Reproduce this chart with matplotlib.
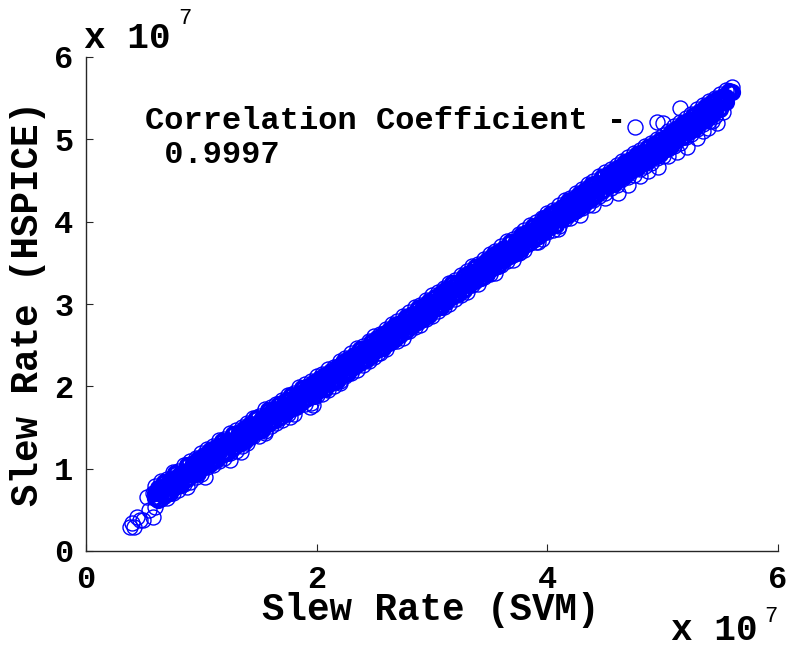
import matplotlib
matplotlib.use("Agg")
import matplotlib.pyplot as plt

# Slew rate values in units of 1e7 (SVM prediction on x, HSPICE on y)
x_grid = [0.60, 0.65, 0.70, 0.75, 0.80, 0.85, 0.90, 0.95, 1.00, 1.05, 1.10, 1.15, 1.20, 1.25, 1.30,
          1.35, 1.40, 1.45, 1.50, 1.55, 1.60, 1.65, 1.70, 1.75, 1.80, 1.85, 1.90, 1.95, 2.00, 2.05,
          2.10, 2.15, 2.20, 2.25, 2.30, 2.35, 2.40, 2.45, 2.50, 2.55, 2.60, 2.65, 2.70, 2.75, 2.80,
          2.85, 2.90, 2.95, 3.00, 3.05, 3.10, 3.15, 3.20, 3.25, 3.30, 3.35, 3.40, 3.45, 3.50, 3.55,
          3.60, 3.65, 3.70, 3.75, 3.80, 3.85, 3.90, 3.95, 4.00, 4.05, 4.10, 4.15, 4.20, 4.25, 4.30,
          4.35, 4.40, 4.45, 4.50, 4.55, 4.60, 4.65, 4.70, 4.75, 4.80, 4.85, 4.90, 4.95, 5.00, 5.05,
          5.10, 5.15, 5.20, 5.25, 5.30, 5.35, 5.40, 5.45, 5.50, 5.55, 5.60]

x_grid_b = [0.625, 0.675, 0.725, 0.775, 0.825, 0.875, 0.925, 0.975, 1.025, 1.075, 1.125, 1.175, 1.225,
            1.275, 1.325, 1.375, 1.425, 1.475, 1.525, 1.575, 1.625, 1.675, 1.725, 1.775, 1.825, 1.875,
            1.925, 1.975, 2.025, 2.075, 2.125, 2.175, 2.225, 2.275, 2.325, 2.375, 2.425, 2.475, 2.525,
            2.575, 2.625, 2.675, 2.725, 2.775, 2.825, 2.875, 2.925, 2.975, 3.025, 3.075, 3.125, 3.175,
            3.225, 3.275, 3.325, 3.375, 3.425, 3.475, 3.525, 3.575, 3.625, 3.675, 3.725, 3.775, 3.825,
            3.875, 3.925, 3.975, 4.025, 4.075, 4.125, 4.175, 4.225, 4.275, 4.325, 4.375, 4.425, 4.475,
            4.525, 4.575, 4.625, 4.675, 4.725, 4.775, 4.825, 4.875, 4.925, 4.975, 5.025, 5.075, 5.125,
            5.175, 5.225, 5.275, 5.325, 5.375, 5.425, 5.475, 5.525, 5.575]

y_row_upper = [0.79, 0.85, 0.88, 0.96, 0.97, 1.05, 1.09, 1.13, 1.19, 1.24, 1.28, 1.35, 1.36, 1.43, 1.47,
               1.51, 1.56, 1.62, 1.64, 1.72, 1.75, 1.79, 1.84, 1.90, 1.92, 1.99, 2.03, 2.06, 2.12, 2.15,
               2.21, 2.24, 2.31, 2.34, 2.40, 2.46, 2.49, 2.55, 2.61, 2.64, 2.70, 2.76, 2.79, 2.85, 2.90,
               2.96, 2.99, 3.05, 3.11, 3.14, 3.20, 3.26, 3.29, 3.35, 3.40, 3.46, 3.49, 3.55, 3.61, 3.64,
               3.70, 3.76, 3.79, 3.85, 3.90, 3.96, 3.99, 4.05, 4.11, 4.14, 4.20, 4.26, 4.29, 4.35, 4.40,
               4.46, 4.49, 4.55, 4.60, 4.64, 4.69, 4.74, 4.78, 4.83, 4.87, 4.92, 4.96, 5.00, 5.05, 5.10,
               5.16, 5.21, 5.26, 5.31, 5.37, 5.42, 5.47, 5.50, 5.55, 5.60, 5.63]

y_row_b1 = [0.77, 0.84, 0.86, 0.95, 0.95, 1.04, 1.07, 1.12, 1.17, 1.23, 1.26, 1.34, 1.34, 1.42, 1.45,
            1.50, 1.54, 1.61, 1.62, 1.71, 1.73, 1.78, 1.82, 1.89, 1.90, 1.98, 2.01, 2.05, 2.10, 2.14,
            2.19, 2.23, 2.29, 2.33, 2.38, 2.45, 2.47, 2.54, 2.59, 2.63, 2.68, 2.75, 2.77, 2.84, 2.88,
            2.95, 2.97, 3.04, 3.09, 3.13, 3.18, 3.25, 3.27, 3.34, 3.38, 3.45, 3.47, 3.54, 3.59, 3.63,
            3.68, 3.75, 3.77, 3.84, 3.88, 3.95, 3.97, 4.04, 4.09, 4.13, 4.18, 4.25, 4.27, 4.34, 4.38,
            4.45, 4.47, 4.54, 4.58, 4.63, 4.67, 4.73, 4.76, 4.82, 4.85, 4.91, 4.94, 4.99, 5.03, 5.09,
            5.14, 5.20, 5.24, 5.30, 5.35, 5.41, 5.45, 5.49, 5.53, 5.59]

y_row_mid_hi = [0.71, 0.76, 0.81, 0.88, 0.91, 0.96, 0.99, 1.06, 1.11, 1.15, 1.21, 1.27, 1.30, 1.34, 1.37,
                1.44, 1.48, 1.53, 1.57, 1.64, 1.69, 1.70, 1.74, 1.83, 1.84, 1.90, 1.96, 1.98, 2.06, 2.06,
                2.11, 2.17, 2.23, 2.25, 2.33, 2.38, 2.43, 2.46, 2.51, 2.57, 2.62, 2.67, 2.72, 2.77, 2.84,
                2.87, 2.89, 2.98, 3.03, 3.05, 3.13, 3.18, 3.23, 3.26, 3.30, 3.39, 3.41, 3.46, 3.54, 3.56,
                3.64, 3.67, 3.69, 3.78, 3.82, 3.87, 3.92, 3.97, 4.05, 4.05, 4.10, 4.19, 4.21, 4.26, 4.33,
                4.38, 4.43, 4.46, 4.50, 4.57, 4.61, 4.65, 4.71, 4.75, 4.81, 4.83, 4.86, 4.93, 4.97, 5.01,
                5.09, 5.13, 5.20, 5.22, 5.27, 5.35, 5.39, 5.41, 5.48, 5.52, 5.57]

y_row_b2 = [0.70, 0.75, 0.79, 0.86, 0.88, 0.95, 1.00, 1.03, 1.10, 1.14, 1.19, 1.25, 1.27, 1.33, 1.38,
            1.41, 1.47, 1.52, 1.55, 1.62, 1.66, 1.69, 1.75, 1.80, 1.83, 1.89, 1.94, 1.96, 2.03, 2.05,
            2.12, 2.14, 2.22, 2.24, 2.31, 2.36, 2.40, 2.45, 2.52, 2.54, 2.61, 2.66, 2.70, 2.75, 2.81,
            2.86, 2.90, 2.95, 3.02, 3.04, 3.11, 3.16, 3.20, 3.25, 3.31, 3.36, 3.40, 3.45, 3.52, 3.54,
            3.61, 3.66, 3.70, 3.75, 3.81, 3.86, 3.90, 3.95, 4.02, 4.04, 4.11, 4.16, 4.20, 4.25, 4.31,
            4.36, 4.40, 4.45, 4.51, 4.54, 4.60, 4.64, 4.69, 4.73, 4.78, 4.82, 4.87, 4.90, 4.96, 5.00,
            5.07, 5.11, 5.17, 5.21, 5.28, 5.32, 5.38, 5.40, 5.46]

y_row_mid_lo = [0.64, 0.69, 0.70, 0.81, 0.80, 0.91, 0.93, 0.96, 1.04, 1.08, 1.10, 1.20, 1.19, 1.29, 1.31,
                1.34, 1.41, 1.46, 1.46, 1.57, 1.58, 1.65, 1.68, 1.73, 1.77, 1.83, 1.85, 1.91, 1.95, 2.01,
                2.05, 2.07, 2.16, 2.18, 2.22, 2.31, 2.32, 2.41, 2.45, 2.47, 2.55, 2.60, 2.61, 2.70, 2.73,
                2.82, 2.83, 2.88, 2.96, 2.98, 3.02, 3.11, 3.12, 3.21, 3.24, 3.29, 3.34, 3.39, 3.43, 3.49,
                3.53, 3.62, 3.63, 3.68, 3.75, 3.80, 3.81, 3.90, 3.94, 4.00, 4.04, 4.09, 4.14, 4.19, 4.22,
                4.31, 4.32, 4.41, 4.44, 4.47, 4.54, 4.58, 4.60, 4.68, 4.70, 4.78, 4.80, 4.83, 4.90, 4.94,
                4.98, 5.06, 5.09, 5.17, 5.21, 5.25, 5.32, 5.34, 5.37, 5.45]

y_row_b3 = [0.62, 0.67, 0.71, 0.78, 0.80, 0.87, 0.92, 0.95, 1.02, 1.06, 1.11, 1.17, 1.19, 1.25, 1.30,
            1.33, 1.39, 1.44, 1.47, 1.54, 1.58, 1.61, 1.67, 1.72, 1.75, 1.81, 1.86, 1.88, 1.95, 1.97,
            2.04, 2.06, 2.14, 2.16, 2.23, 2.28, 2.32, 2.37, 2.44, 2.46, 2.53, 2.58, 2.62, 2.67, 2.73,
            2.78, 2.82, 2.87, 2.94, 2.96, 3.03, 3.08, 3.12, 3.17, 3.23, 3.28, 3.32, 3.37, 3.44, 3.46,
            3.53, 3.58, 3.62, 3.67, 3.73, 3.78, 3.82, 3.87, 3.94, 3.96, 4.03, 4.08, 4.12, 4.17, 4.23,
            4.28, 4.32, 4.37, 4.43, 4.46, 4.52, 4.56, 4.61, 4.65, 4.70, 4.74, 4.79, 4.82, 4.88, 4.92,
            4.99, 5.03, 5.09, 5.13, 5.20, 5.24, 5.30]

y_row_lower = [0.54, 0.63, 0.64, 0.70, 0.74, 0.81, 0.84, 0.90, 0.94, 1.02, 1.04, 1.09, 1.13, 1.19, 1.22,
               1.28, 1.31, 1.40, 1.40, 1.46, 1.52, 1.55, 1.59, 1.67, 1.67, 1.77, 1.79, 1.80, 1.89, 1.91,
               1.96, 2.01, 2.06, 2.12, 2.16, 2.20, 2.26, 2.31, 2.36, 2.41, 2.45, 2.54, 2.55, 2.59, 2.67,
               2.72, 2.74, 2.82, 2.86, 2.92, 2.96, 3.00, 3.06, 3.11, 3.15, 3.23, 3.24, 3.33, 3.37, 3.38,
               3.47, 3.52, 3.54, 3.62, 3.65, 3.74, 3.75, 3.79, 3.88, 3.90, 3.95, 4.03, 4.04, 4.13, 4.16,
               4.20, 4.26, 4.31, 4.35, 4.41, 4.44, 4.52, 4.54, 4.57, 4.64, 4.68, 4.71, 4.77, 4.80, 4.88,
               4.92, 4.95, 5.03, 5.07, 5.12, 5.19, 5.22, 5.28]

# Sparse outlying points (below and above the main band) and the low-end cluster
x_outliers = [0.38, 0.40, 0.42, 0.44, 0.47, 0.49, 0.53, 0.55, 0.58, 0.58, 0.64, 0.88, 1.03, 1.25, 1.34,
              1.55, 1.77, 1.94, 1.97, 2.20, 2.53, 3.70, 3.76, 3.92, 4.09, 4.28, 4.40, 4.50, 4.61, 4.70,
              4.80, 4.87, 4.96, 5.05, 5.12, 5.21, 5.30, 5.35, 5.39, 5.43, 5.47, 5.52,
              4.76, 4.95, 5.00, 5.15]
y_outliers = [0.29, 0.34, 0.29, 0.41, 0.38, 0.38, 0.66, 0.50, 0.41, 0.70, 0.78, 0.78, 0.90, 1.11, 1.20,
              1.43, 1.63, 1.75, 1.77, 2.04, 2.41, 3.60, 3.63, 3.75, 3.91, 4.08, 4.20, 4.29, 4.35, 4.45,
              4.55, 4.61, 4.67, 4.80, 4.85, 4.91, 5.02, 5.10, 5.14, 5.22, 5.20, 5.33,
              5.15, 5.21, 5.20, 5.38]

corr_label = "Correlation Coefficient -"
corr_value = " 0.9997"

FONT = "Liberation Mono"
BLUE = "#0000ff"

fig = plt.figure(figsize=(7.88, 6.46), dpi=100)
ax = fig.add_axes([86 / 788, 1 - 551 / 646, (778 - 86) / 788, (551 - 57) / 646])

edge_mk = dict(linestyle="none", marker="o", markerfacecolor="none", markeredgecolor=BLUE,
               markersize=10.8, markeredgewidth=1.0)
# the core of the band is so heavily overplotted in the original that it reads as solid
core_mk = dict(linestyle="none", marker="o", markerfacecolor="none", markeredgecolor=BLUE,
               markersize=9.8, markeredgewidth=2.6)
for row in (y_row_mid_hi, y_row_mid_lo):
    ax.plot(x_grid[:len(row)], row, **core_mk)
for row in (y_row_b1, y_row_b2, y_row_b3):
    ax.plot(x_grid_b[:len(row)], row, **core_mk)
for row in (y_row_upper, y_row_lower):
    ax.plot(x_grid[:len(row)], row, **edge_mk)
ax.plot(x_outliers, y_outliers, **edge_mk)

ax.set_xlim(0, 6)
ax.set_ylim(0, 6)
ax.set_xticks([0, 2, 4, 6])
ax.set_yticks([0, 1, 2, 3, 4, 5, 6])
ax.set_xticklabels(["0", "2", "4", "6"])
ax.set_yticklabels(["0", "1", "2", "3", "4", "5", "6"])
for s in ("top", "right"):
    ax.spines[s].set_visible(False)
for s in ("left", "bottom"):
    ax.spines[s].set_linewidth(1.0)
    ax.spines[s].set_color("#262626")
ax.tick_params(direction="in", length=5, width=0.8, colors="#262626", labelcolor="black")
ax.tick_params(axis="x", pad=10)
ax.tick_params(axis="y", pad=9)
for lab in ax.get_xticklabels() + ax.get_yticklabels():
    lab.set_fontfamily(FONT)
    lab.set_fontweight("bold")
    lab.set_fontsize(23)

ax.set_xlabel("Slew Rate (SVM)", fontfamily=FONT, fontweight="bold", fontsize=27, labelpad=0)
ax.set_ylabel("Slew Rate (HSPICE)", fontfamily=FONT, fontweight="bold", fontsize=27, labelpad=0)
ax.xaxis.set_label_coords((431 - 86) / (778 - 86), -(592 - 551) / (551 - 57))
ax.yaxis.set_label_coords(-(86 - 46) / (778 - 86), (551 - 304) / (551 - 57))

ax.text(0.51, 5.22, corr_label, fontfamily=FONT, fontweight="bold", fontsize=23, va="center", ha="left")
ax.text(0.51, 4.81, corr_value, fontfamily=FONT, fontweight="bold", fontsize=23, va="center", ha="left")

# multiplier labels
fig.text(84 / 788, 1 - 38 / 646, "x 10", fontfamily=FONT, fontweight="bold", fontsize=26, va="center", ha="left")
fig.text(178 / 788, 1 - 18 / 646, "7", fontfamily=FONT, fontsize=16, va="center", ha="left")
fig.text(671 / 788, 1 - 630 / 646, "x 10", fontfamily=FONT, fontweight="bold", fontsize=26, va="center", ha="left")
fig.text(764 / 788, 1 - 616 / 646, "7", fontfamily=FONT, fontsize=16, va="center", ha="left")

fig.savefig("out.png", dpi=100)
